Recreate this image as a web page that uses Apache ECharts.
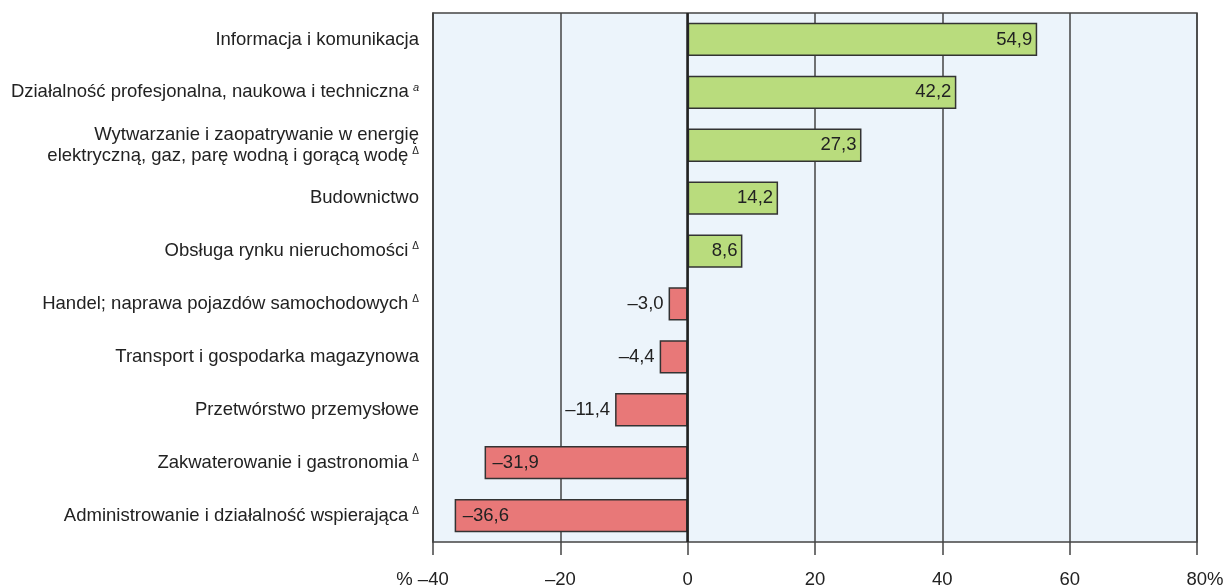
<!DOCTYPE html>
<html>
<head>
<meta charset="utf-8">
<script src="https://cdn.jsdelivr.net/npm/echarts@6/dist/echarts.min.js"></script>
<style>html,body{margin:0;padding:0;background:#fff}#c{width:1224px;height:585px}</style>
</head>
<body>
<div id="c"></div>
<script>
const categories = [
  'Informacja i komunikacja',
  'Działalność profesjonalna, naukowa i techniczna',
  'Wytwarzanie i zaopatrywanie w energię\nelektryczną, gaz, parę wodną i gorącą wodę',
  'Budownictwo',
  'Obsługa rynku nieruchomości',
  'Handel; naprawa pojazdów samochodowych',
  'Transport i gospodarka magazynowa',
  'Przetwórstwo przemysłowe',
  'Zakwaterowanie i gastronomia',
  'Administrowanie i działalność wspierająca'
];
const marks = ['', 'a', 'Δ', '', 'Δ', 'Δ', '', '', 'Δ', 'Δ'];
const values = [54.9, 42.2, 27.3, 14.2, 8.6, -3.0, -4.4, -11.4, -31.9, -36.6];
const xTicks = [-40, -20, 0, 20, 40, 60, 80];

const FF = "'Liberation Sans', Arial, sans-serif";
const FS = 18.5;
const fmt = v => (v < 0 ? '–' : '') + Math.abs(v).toFixed(1).replace('.', ',');
const fmtInt = v => (v < 0 ? '–' : '') + Math.abs(v);

const data = values.map(v => ({
  value: v,
  itemStyle: { color: v >= 0 ? '#B9DC7D' : '#E87878' },
  label: { position: v >= 0 ? 'insideRight' : (v < -20 ? 'insideLeft' : 'left'), distance: v < -20 ? 8 : 5 }
}));

const chart = echarts.init(document.getElementById('c'));
chart.setOption({
  animation: false,
  textStyle: { fontFamily: FF },
  grid: {
    left: 433, right: 27, top: 13, bottom: 43,
    outerBoundsMode: 'none', containLabel: false,
    show: true, backgroundColor: '#ECF4FB', borderColor: '#444', borderWidth: 1.5
  },
  xAxis: {
    type: 'value', min: -40, max: 80, interval: 20,
    axisLine: { show: false },
    axisTick: { show: true, length: 13, lineStyle: { color: '#444', width: 1.5 } },
    splitLine: { show: true, lineStyle: { color: '#444', width: 1.5 } },
    axisLabel: {
      margin: 28, fontSize: FS, color: '#222', fontFamily: FF,
      formatter: v => {
        if (v === xTicks[0]) return '% ' + fmtInt(v) + '{p1|}';
        if (v === xTicks[xTicks.length - 1]) return '{p2|}' + v + '%';
        return fmtInt(v);
      },
      rich: { p1: { width: 21 }, p2: { width: 16 } }
    }
  },
  yAxis: {
    type: 'category', data: categories, inverse: true,
    axisLine: { show: true, onZero: false, lineStyle: { color: '#444', width: 1.5 } },
    axisTick: { show: false },
    axisLabel: {
      margin: 14, fontSize: FS, color: '#222', lineHeight: 21, fontFamily: FF,
      formatter: (val, idx) => {
        const m = marks[idx];
        const lines = val.split('\n');
        const last = lines.pop();
        let s = lines.map(l => '{t|' + l + '}').join('\n');
        if (lines.length) s += '\n';
        s += '{t|' + last + '}';
        if (m === 'a') s += '{si|a}';
        else if (m) s += '{s|' + m + '}';
        return s;
      },
      rich: {
        t: { fontSize: FS, color: '#222', lineHeight: 21, fontFamily: FF },
        s: { fontSize: 10, color: '#222', verticalAlign: 'top', padding: [1, 0, 0, 4], lineHeight: 12, fontFamily: FF },
        si: { fontSize: 11, color: '#222', fontStyle: 'italic', verticalAlign: 'top', padding: [1, 0, 0, 4], lineHeight: 12, fontFamily: FF }
      }
    }
  },
  series: [{
    type: 'bar',
    data: data,
    barWidth: '63%',
    itemStyle: { borderColor: '#333', borderWidth: 1.5 },
    label: { show: true, fontSize: FS, color: '#222', fontFamily: FF, formatter: p => fmt(p.value) },
    markLine: {
      silent: true, symbol: 'none', animation: false,
      label: { show: false },
      lineStyle: { color: '#222', width: 2.5, type: 'solid' },
      data: [{ xAxis: 0 }]
    }
  }]
});
</script>
</body>
</html>
